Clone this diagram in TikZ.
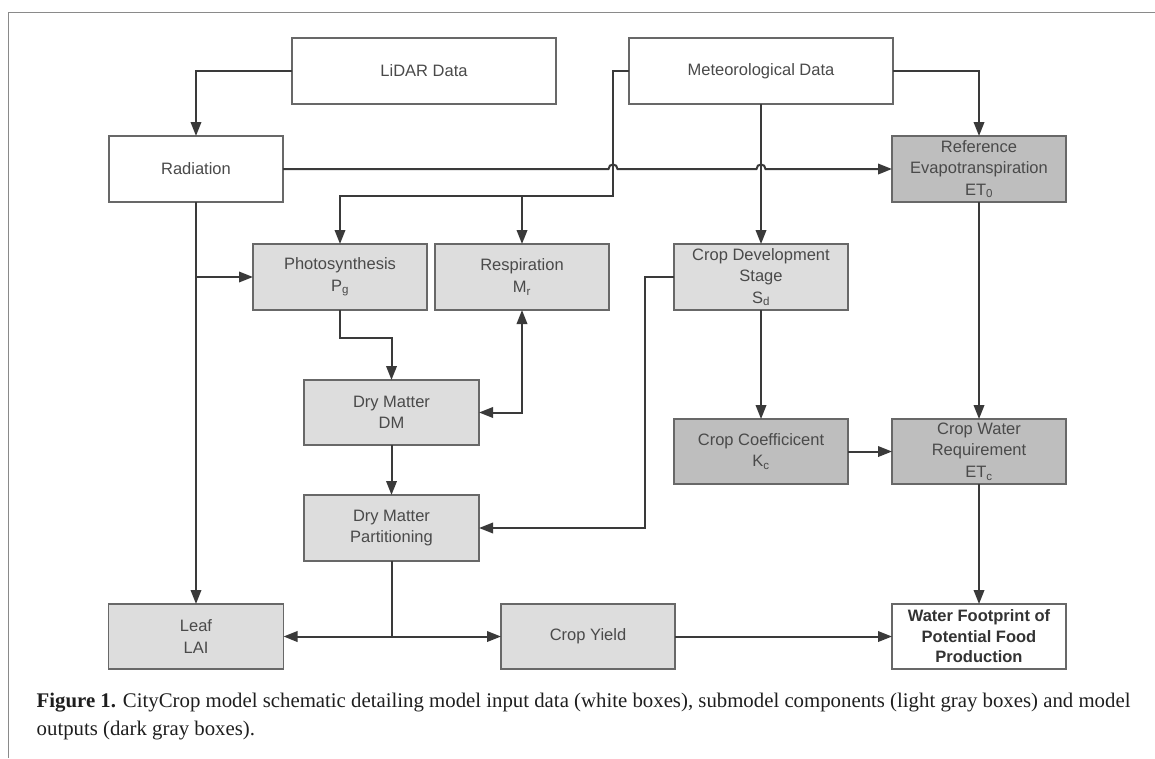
\documentclass[tikz,border=0pt]{standalone}
\usepackage{fontspec}
\setmainfont{Liberation Serif}
\newfontfamily\arialf{Liberation Sans}
\usetikzlibrary{arrows.meta}
\definecolor{txtc}{HTML}{4A4A4A}
\definecolor{linec}{HTML}{3A3A3A}
\definecolor{borderc}{HTML}{686868}
\definecolor{lightfill}{HTML}{DDDDDD}
\definecolor{darkfill}{HTML}{BEBEBE}
\definecolor{framec}{HTML}{8A8A8A}
\definecolor{capc}{HTML}{1E1E1E}
\tikzset{
  box/.style={draw=borderc, line width=1.5pt, inner sep=0pt, outer sep=0pt,
    minimum width=174pt, minimum height=66pt, align=center, text=txtc,
    font=\arialf\fontsize{16.5}{21.5}\selectfont},
  inbox/.style={box, fill=white},
  lbox/.style={box, fill=lightfill},
  dbox/.style={box, fill=darkfill},
  wide/.style={minimum width=264pt},
  line/.style={draw=linec, line width=2pt},
  conn/.style={line, -{Triangle[length=14pt,width=10.5pt]}},
  conntwo/.style={line, {Triangle[length=14pt,width=10.5pt]}-{Triangle[length=14pt,width=10.5pt]}},
  caption/.style={anchor=base west, inner sep=0pt, text=capc, font=\fontsize{20.8}{28}\selectfont}
}
\begin{document}
\begin{tikzpicture}[x=1pt,y=-1pt]
\useasboundingbox (0,0) rectangle (1155,758);
\draw[framec, line width=1.3pt] (8.5,758) -- (8.5,12.5) -- (1155,12.5);

% nodes
\node[inbox, wide] (lidar) at (424,71) {LiDAR Data};
\node[inbox, wide] (meteo) at (761,71) {Meteorological Data};
\node[inbox] (rad) at (196,169) {Radiation};
\node[dbox] (ref) at (979,169) {Reference\\Evapotranspiration\\ET\textsubscript{0}};
\node[lbox] (photo) at (340,277) {Photosynthesis\\P\textsubscript{g}};
\node[lbox] (resp) at (522,277) {Respiration\\M\textsubscript{r}};
\node[lbox] (cds) at (761,277) {Crop Development\\Stage\\S\textsubscript{d}};
\node[lbox, minimum width=175pt, minimum height=65pt] (dm) at (391.5,412.5) {Dry Matter\\DM};
\node[dbox, minimum height=65pt] (cc) at (761,451.5) {Crop Coefficicent\\K\textsubscript{c}};
\node[dbox, minimum height=65pt] (cwr) at (979,451.5) {Crop Water\\Requirement\\ET\textsubscript{c}};
\node[lbox, minimum width=175pt] (dmp) at (391.5,528) {Dry Matter\\Partitioning};
\node[lbox, minimum width=175pt, minimum height=65pt] (leaf) at (196,636.5) {Leaf\\LAI};
\node[lbox, minimum height=65pt] (yield) at (588,636.5) {Crop Yield};
\node[inbox, minimum height=65pt, text=black!80, font=\arialf\bfseries\fontsize{16.5}{20.5}\selectfont] (wf) at (979,636.5) {Water Footprint of\\Potential Food\\Production};

% helper coordinates
\coordinate (mA) at (613,196);
\coordinate (pA) at (340,338);
\coordinate (cA) at (645,277);
\coordinate (dA) at (392,636.5);
\coordinate (jA) at (613,169);
\coordinate (jB) at (761,169);

% connectors
\draw[conn] (lidar.west) -| (rad.north);
\draw[conn] (meteo.west) -| (mA) -| (photo.north);
\draw[conn] (resp.north |- mA) -- (resp.north);
\draw[conn] (meteo.south) -- (cds.north);
\draw[conn] (meteo.east) -| (ref.north);
\draw[conn] (rad.east) -- ([xshift=-4.5pt]jA) .. controls ([xshift=-4.5pt,yshift=6pt]jA) and ([xshift=4.5pt,yshift=6pt]jA) .. ([xshift=4.5pt]jA)
  -- ([xshift=-4.5pt]jB) .. controls ([xshift=-4.5pt,yshift=6pt]jB) and ([xshift=4.5pt,yshift=6pt]jB) .. ([xshift=4.5pt]jB) -- (ref.west);
\draw[conn] (rad.south) -- (leaf.north);
\draw[conn] (rad.south |- photo.west) -- (photo.west);
\draw[conn] (photo.south) -- (pA) -| (dm.north);
\draw[conntwo] (dm.east) -| (resp.south);
\draw[conn] (dm.south) -- (dmp.north);
\draw[conn] (cds.west) -- (cA) |- (dmp.east);
\draw[conn] (cds.south) -- (cc.north);
\draw[conn] (cc.east) -- (cwr.west);
\draw[conn] (ref.south) -- (cwr.north);
\draw[conn] (cwr.south) -- (wf.north);
\draw[line] (dmp.south -| dA) -- (dA);
\draw[conn] (dA) -- (leaf.east);
\draw[conn] (dA) -- (yield.west);
\draw[conn] (yield.east) -- (wf.west);

% caption
\node[caption] (cap1) at (36.5,707) {\textbf{Figure 1.} CityCrop model schematic detailing model input data (white boxes), submodel components (light gray boxes) and model};
\node[caption] (cap2) at (36.5,735) {outputs (dark gray boxes).};
\end{tikzpicture}
\end{document}
